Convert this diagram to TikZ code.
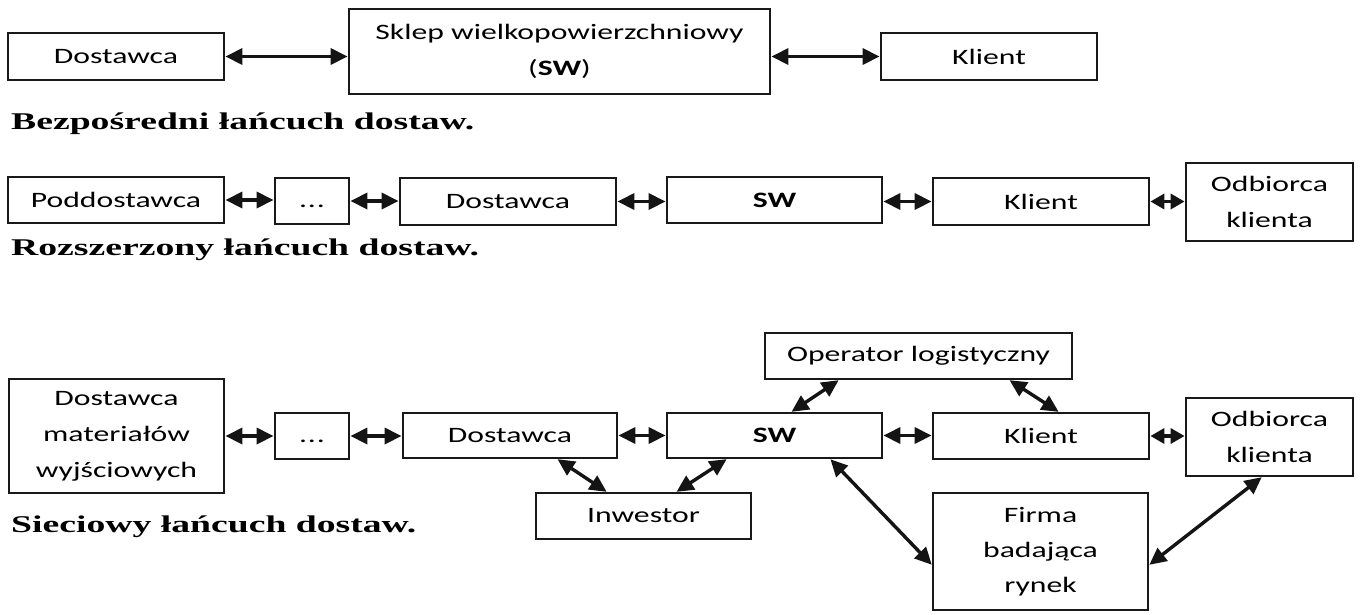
\documentclass[tikz,border=0pt]{standalone}
\usepackage{fontspec}
\setmainfont{Carlito}[FakeStretch=1.44]
\newfontfamily\capfont{Liberation Serif}[FakeStretch=1.57]
\usetikzlibrary{arrows.meta}
\newcommand\dotsbox{\vphantom{Dostawca}.\kern1pt.\kern1pt.}
\begin{document}
\begin{tikzpicture}[x=1pt,y=-1pt,
  box/.style={draw=black!90, line width=1.8pt, fill=white, inner sep=0pt,
    align=center, font=\fontsize{22}{36}\selectfont},
  link/.style={line width=3.4pt, black!92,
    {Triangle[length=17pt,width=16pt]}-{Triangle[length=17pt,width=16pt]}, shorten <=0.5pt, shorten >=0.5pt},
  shortlink/.style={link, {Triangle[length=14pt,width=15pt]}-{Triangle[length=14pt,width=15pt]}},
  caption/.style={anchor=base west, inner sep=0pt, font=\capfont\bfseries\fontsize{24}{28}\selectfont}]
\useasboundingbox (0,0) rectangle (1360,614);

% Bezpośredni łańcuch dostaw
\node[box, minimum width=216pt, minimum height=47pt] (d1) at (116,56.5) {Dostawca};
\node[box, minimum width=421pt, minimum height=85pt] (sw1) at (559.5,51.5) {Sklep wielkopowierzchniowy\\(\textbf{SW})};
\node[box, minimum width=216pt, minimum height=47pt] (k1) at (989,56.5) {Klient};
\draw[link] (d1.east) -- (d1.east -| sw1.west);
\draw[link] (k1.west -| sw1.east) -- (k1.west);
\node[caption] (c1) at (11,129.5) {Bezpośredni łańcuch dostaw.};

% Rozszerzony łańcuch dostaw
\node[box, minimum width=216pt, minimum height=46pt] (p2) at (116,200) {Poddostawca};
\node[box, minimum width=74pt, minimum height=46pt] (e2) at (312,201) {\dotsbox};
\node[box, minimum width=216pt, minimum height=47pt] (d2) at (508,201.5) {Dostawca};
\node[box, minimum width=215pt, minimum height=46pt] (sw2) at (774.5,200) {\textbf{SW}};
\node[box, minimum width=216pt, minimum height=47pt] (k2) at (1041,201.5) {Klient};
\node[box, minimum width=167pt, minimum height=78pt] (o2) at (1269.5,202) {Odbiorca\\klienta};
\draw[link] (p2.east) -- (p2.east -| e2.west);
\draw[link] (e2.east) -- (e2.east -| d2.west);
\draw[link] (d2.east) -- (d2.east -| sw2.west);
\draw[link] (k2.west -| sw2.east) -- (k2.west);
\draw[shortlink] (k2.east) -- (k2.east -| o2.west);
\node[caption] (c2) at (11,255) {Rozszerzony łańcuch dostaw.};

% Sieciowy łańcuch dostaw
\node[box, minimum width=215pt, minimum height=114pt] (dm3) at (116.5,436) {Dostawca\\materiałów\\wyjściowych};
\node[box, minimum width=74pt, minimum height=46pt] (e3) at (312,436) {\dotsbox};
\node[box, minimum width=214pt, minimum height=45pt] (d3) at (510,435.5) {Dostawca};
\node[box, minimum width=215pt, minimum height=45pt] (sw3) at (774.5,435.5) {\textbf{SW}};
\node[box, minimum width=307pt, minimum height=46pt] (op3) at (918.5,356) {Operator logistyczny};
\node[box, minimum width=216pt, minimum height=46pt] (k3) at (1041,436) {Klient};
\node[box, minimum width=167pt, minimum height=78pt] (o3) at (1269.5,437) {Odbiorca\\klienta};
\node[box, minimum width=215pt, minimum height=46pt] (in3) at (643.5,516) {Inwestor};
\node[box, minimum width=215pt, minimum height=117pt, font=\fontsize{22}{35}\selectfont] (f3) at (1040.5,551.5) {Firma\\badająca\\rynek};
\draw[link] (e3.west -| dm3.east) -- (e3.west);
\draw[link] (e3.east) -- (e3.east -| d3.west);
\draw[link] (d3.east) -- (d3.east -| sw3.west);
\draw[link] (sw3.east) -- (sw3.east -| k3.west);
\draw[shortlink] (k3.east) -- (k3.east -| o3.west);
\draw[link] ([xshift=125pt]sw3.north west) -- ([xshift=75pt]op3.south west);
\draw[link] ([xshift=245pt]op3.south west) -- ([xshift=127pt]k3.north west);
\draw[link] ([xshift=155pt]d3.south west) -- ([xshift=72pt]in3.north west);
\draw[link] ([xshift=141pt]in3.north west) -- ([xshift=61pt]sw3.south west);
\draw[link] ([xshift=164pt]sw3.south west) -- ([yshift=-73pt]f3.north west);
\draw[link] ([xshift=77pt]o3.south west) -- ([yshift=-73pt]f3.north east);
\node[caption] (c3) at (11,532) {Sieciowy łańcuch dostaw.};
\end{tikzpicture}
\end{document}
